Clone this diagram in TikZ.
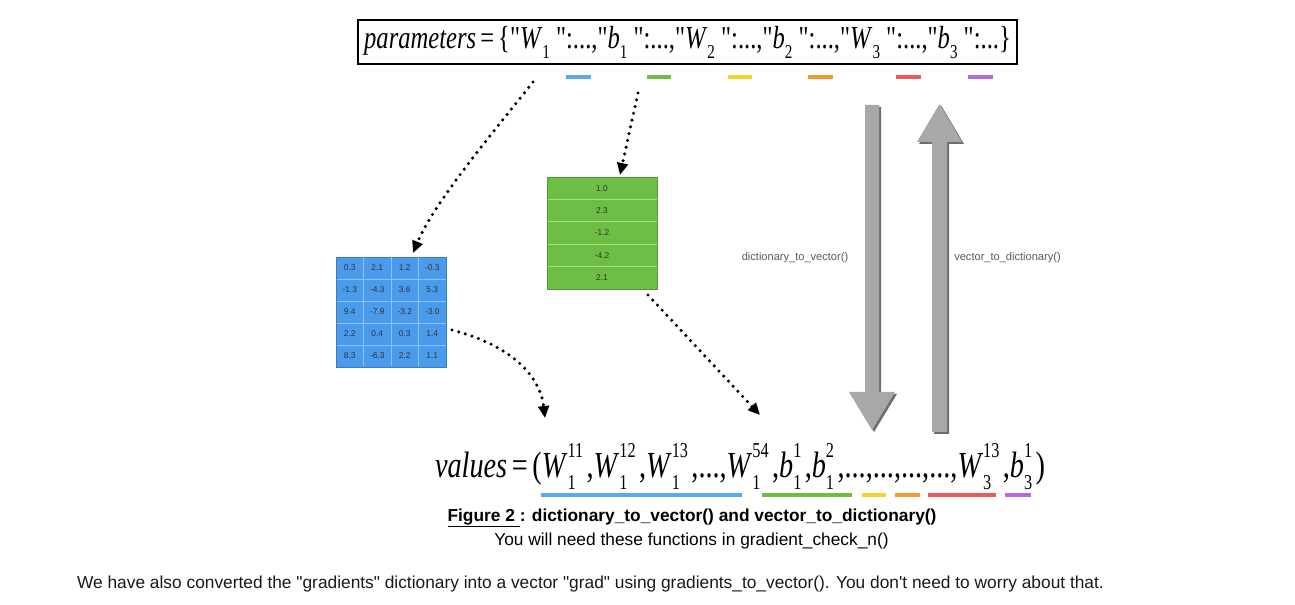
\documentclass[tikz,border=0pt]{standalone}
\usepackage{fontspec}
\setmainfont{Liberation Serif}[Ligatures=TeXOff]
\newfontfamily\arialf{Liberation Sans}
\usetikzlibrary{arrows.meta}
\definecolor{mblue}{RGB}{74,155,235}
\definecolor{mbluel}{RGB}{140,195,245}
\definecolor{mgreen}{RGB}{108,190,68}
\definecolor{mgreenl}{RGB}{170,220,140}
\definecolor{arrgray}{RGB}{168,168,168}
\definecolor{arrshadow}{RGB}{110,110,110}
\definecolor{lblgray}{RGB}{90,90,90}
\definecolor{hlblue}{RGB}{90,168,240}
\definecolor{hlgreen}{RGB}{109,190,69}
\definecolor{hlyellow}{RGB}{245,211,39}
\definecolor{hlorange}{RGB}{243,155,46}
\definecolor{hlred}{RGB}{238,90,90}
\definecolor{hlpurple}{RGB}{178,107,224}
\newcommand\sbx[1]{\lower0.3em\hbox{\fontsize{16}{16}\selectfont #1}}
\newcommand\supsub[2]{\setbox0=\hbox{\fontsize{15}{15}\selectfont #1}\setbox2=\hbox{\fontsize{15}{15}\selectfont #2}\ifdim\wd0>\wd2 \dimen0=\wd0 \else \dimen0=\wd2 \fi\hbox to\dimen0{\rlap{\raise0.55em\box0}\lower0.32em\box2\hfil}\kern0.12em}
\tikzset{
  dotarrow/.style={line width=2.6pt, dash pattern=on 0pt off 5.2pt, line cap=round, -{Triangle[length=9pt,width=8pt]}},
  cellnum/.style={font=\arialf\fontsize{6.3}{7}\selectfont, text=black!80, inner sep=0pt},
  hl/.style={line width=2.4pt},
  bigarrow/.style={fill=arrgray},
  bigshadow/.style={fill=arrshadow},
  fnlabel/.style={font=\arialf\fontsize{8.3}{9}\selectfont, text=lblgray, inner sep=0pt},
  captext/.style={inner sep=0pt, font=\arialf\fontsize{13}{15}\selectfont},
}
\begin{document}
\begin{tikzpicture}[x=0.75pt,y=-0.75pt]
\useasboundingbox (0,0) rectangle (1295,605);
\fill[white] (0,0) rectangle (1295,605);
% top formula
\node[draw, line width=1.1pt, minimum width=494.25pt, minimum height=33pt, inner sep=0pt] (params) at (687.5,42) {};
\node[inner sep=0pt] (paramtext) at (687.5,42.5) {\scalebox{1}[1.3]{\resizebox{485pt}{!}{\fontsize{26}{30}\selectfont\textit{parameters}\,=\,\{"\textit{W}\sbx{1} ":...,"\textit{b}\sbx{1} ":...,"\textit{W}\sbx{2} ":...,"\textit{b}\sbx{2} ":...,"\textit{W}\sbx{3} ":...,"\textit{b}\sbx{3} ":...\}}}};
% highlight dashes under top formula
\draw[hl,hlblue] (566,77) -- (591,77);
\draw[hl,hlgreen] (647,77) -- (671,77);
\draw[hl,hlyellow] (728,77) -- (752,77);
\draw[hl,hlorange] (808,77) -- (833,77);
\draw[hl,hlred] (896,77) -- (921,77);
\draw[hl,hlpurple] (968,77) -- (993,77);
% blue matrix
\node[fill=mblue, draw=mblue!80!black, line width=0.4pt, minimum width=82.5pt, minimum height=82.5pt, inner sep=0pt] (wmat) at (391,312) {};
\foreach \i in {1,2,3} \draw[mbluel, line width=0.5pt] (336+27.5*\i,257.5) -- (336+27.5*\i,366.5);
\foreach \j in {1,2,3,4} \draw[mbluel, line width=0.5pt] (336.5,257+22*\j) -- (445.5,257+22*\j);
\foreach \row [count=\r from 0] in {{0.3,2.1,1.2,-0.3},{-1.3,-4.3,3.6,5.3},{9.4,-7.9,-3.2,-3.0},{2.2,0.4,0.3,1.4},{8.3,-6.3,2.2,1.1}} {
  \foreach \v [count=\c from 0] in \row {
    \node[cellnum] (w\r\c) at (336+27.5*\c+13.75,257+22*\r+11) {\v};
  }
}
% green vector
\node[fill=mgreen, draw=mgreen!80!black, line width=0.4pt, minimum width=82.5pt, minimum height=84pt, inner sep=0pt] (bvec) at (602,233) {};
\foreach \j in {1,2,3,4} \draw[mgreenl, line width=0.5pt] (547.5,177+22.4*\j) -- (656.5,177+22.4*\j);
\foreach \v [count=\r from 0] in {1.0,2.3,-1.2,-4.2,2.1} {
  \node[cellnum] (b\r) at (602,177+22.4*\r+11.2) {\v};
}
% dotted arrows
\coordinate (s1) at (533,82);
\coordinate (e1) at (413,253);
\coordinate (s2) at (638,93);
\coordinate (e2) at (620,175);
\coordinate (s3) at (452,330);
\coordinate (e3) at (545,418);
\coordinate (s4) at (648,295);
\coordinate (e4) at (760,415);
\draw[dotarrow] (s1) .. controls (505,118) and (435,200) .. (e1);
\draw[dotarrow] (s2) -- (e2);
\draw[dotarrow] (s3) .. controls (510,345) and (540,375) .. (e3);
\draw[dotarrow] (s4) -- (e4);
% big gray arrows
\fill[bigshadow] (867,107) -- (881,107) -- (881,394) -- (897,394) -- (874,432) -- (851,394) -- (867,394) -- cycle;
\fill[bigarrow] (865,105) -- (879,105) -- (879,392) -- (895,392) -- (872,430) -- (849,392) -- (865,392) -- cycle;
\fill[bigshadow] (934,434) -- (949,434) -- (949,144) -- (964,144) -- (941.5,106) -- (919,144) -- (934,144) -- cycle;
\fill[bigarrow] (932,432) -- (947,432) -- (947,142) -- (962,142) -- (939.5,104) -- (917,142) -- (932,142) -- cycle;
\node[fnlabel] (d2v) at (795,258) {dictionary\_to\_vector()};
\node[fnlabel] (v2d) at (1007.5,258) {vector\_to\_dictionary()};
% values formula
\node[inner sep=0pt, anchor=base] (values) at (740,478) {\scalebox{1}[1.3]{\resizebox{457.5pt}{!}{\fontsize{26}{30}\selectfont\textit{values}\,=\,(\textit{W}\supsub{11}{1},\textit{W}\supsub{12}{1},\textit{W}\supsub{13}{1},...,\textit{W}\supsub{54}{1},\textit{b}\supsub{1}{1},\textit{b}\supsub{2}{1},...,...,...,...,\textit{W}\supsub{13}{3},\textit{b}\supsub{1}{3})}}};
\draw[hl,hlblue] (541,495) -- (742,495);
\draw[hl,hlgreen] (762,495) -- (852,495);
\draw[hl,hlyellow] (862,495) -- (886,495);
\draw[hl,hlorange] (895,495) -- (920,495);
\draw[hl,hlred] (928,495) -- (996,495);
\draw[hl,hlpurple] (1005,495) -- (1031,495);
% caption
\node[captext, font=\arialf\fontsize{13}{15}\selectfont\bfseries] (cap1) at (692,518) {\underline{Figure 2 }: dictionary\_to\_vector() and vector\_to\_dictionary()};
\node[captext] (cap2) at (691.5,541) {You will need these functions in gradient\_check\_n()};
\node[captext, text=black!90] (note) at (590.5,584) {We have also converted the "gradients" dictionary into a vector "grad" using gradients\_to\_vector(). You don't need to worry about that.};
\end{tikzpicture}
\end{document}
